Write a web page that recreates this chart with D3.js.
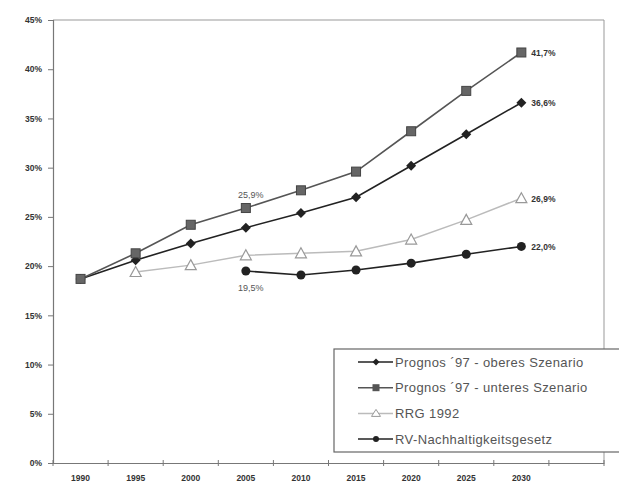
<!DOCTYPE html>
<html><head><meta charset="utf-8">
<script src="https://cdn.jsdelivr.net/npm/d3@7"></script>
<style>body{margin:0;background:#fff}svg{display:block}</style>
</head><body>
<svg id="c" width="619" height="488"></svg>
<script>
const years = ["1990","1995","2000","2005","2010","2015","2020","2025","2030",""];
const yTicks = [0,5,10,15,20,25,30,35,40,45];
const oberes  = [18.7, 20.6, 22.3, 23.9, 25.4, 27.0, 30.2, 33.4, 36.6];
const unteres = [18.7, 21.3, 24.2, 25.9, 27.7, 29.6, 33.7, 37.8, 41.7];
const rrg     = [null, 19.4, 20.1, 21.1, 21.3, 21.5, 22.7, 24.7, 26.9];
const rv      = [null, null, null, 19.5, 19.1, 19.6, 20.3, 21.2, 22.0];
const seriesNames = ["Prognos ´97 - oberes Szenario","Prognos ´97 - unteres Szenario","RRG 1992","RV-Nachhaltigkeitsgesetz"];
const endLabels = ["36,6%","41,7%","26,9%","22,0%"];

const svg = d3.select("#c");
const L=53,R=604,T=20,B=463;
const x = d3.scaleBand().domain(years.map((d,i)=>i)).range([L,R]);
const y = d3.scaleLinear().domain([0,45]).range([B,T]);
const cx = i => x(i)+x.bandwidth()/2;
const lf = "Liberation Sans, Arial, sans-serif";

// frame
svg.append("line").attr("x1",L).attr("x2",R).attr("y1",T).attr("y2",T).attr("stroke","#999").attr("stroke-width",1);
svg.append("line").attr("x1",R).attr("x2",R).attr("y1",T).attr("y2",B).attr("stroke","#999").attr("stroke-width",1);

// y axis
const ya = svg.append("g").attr("transform",`translate(${L},0)`)
  .call(d3.axisLeft(y).tickValues(yTicks).tickFormat(d=>d+"%").tickSize(5).tickPadding(6));
ya.select(".domain").attr("stroke","#777").attr("stroke-width",1.2);
ya.selectAll(".tick line").attr("stroke","#777");
ya.selectAll("text").attr("font-family",lf).attr("font-weight","bold").attr("font-size","8.5px").attr("fill","#333");

// x axis
const xa = svg.append("g").attr("transform",`translate(0,${B})`)
  .call(d3.axisBottom(x).tickFormat(i=>years[i]).tickSize(0).tickPadding(12));
xa.select(".domain").attr("stroke","#777").attr("stroke-width",1.2);
xa.selectAll("text").attr("font-family",lf).attr("font-weight","bold").attr("font-size","8.5px").attr("fill","#333");
const bounds = years.map((d,i)=>x(i)).concat([R]);
svg.append("g").selectAll("line").data(bounds).join("line")
  .attr("x1",d=>d).attr("x2",d=>d).attr("y1",B-3).attr("y2",B+3).attr("stroke","#777");

const data = [oberes, unteres, rrg, rv];
const lineCol = ["#222","#555","#bbb","#222"];
const line = d3.line().defined(d=>d!=null).x((d,i)=>cx(i)).y(d=>y(d));
function marker(g, k, px, py){
  if(k===0) g.append("path").attr("d",`M${px},${py-5}L${px+5},${py}L${px},${py+5}L${px-5},${py}Z`).attr("fill","#222");
  if(k===1) g.append("rect").attr("x",px-4.5).attr("y",py-4.5).attr("width",9).attr("height",9).attr("fill","#666").attr("stroke","#444");
  if(k===2) g.append("path").attr("d",`M${px},${py-5.5}L${px+5.5},${py+4.5}L${px-5.5},${py+4.5}Z`).attr("fill","#fff").attr("stroke","#999").attr("stroke-width",1.2);
  if(k===3) g.append("circle").attr("cx",px).attr("cy",py).attr("r",4.5).attr("fill","#222");
}
[2,3,0,1].forEach(k=>{
  const arr = data[k];
  const g = svg.append("g");
  g.append("path").datum(arr).attr("d",line).attr("fill","none").attr("stroke",lineCol[k]).attr("stroke-width",k===2?1.5:1.6);
  arr.forEach((v,i)=>{ if(v!=null) marker(g,k,cx(i),y(v)); });
});

// data labels
data.forEach((arr,k)=>{
  const i = arr.length-1;
  svg.append("text").attr("x",cx(i)+10).attr("y",y(arr[i])+3.5).text(endLabels[k])
    .attr("font-family",lf).attr("font-weight","bold").attr("font-size","8.5px").attr("fill","#333");
});
svg.append("text").attr("x",cx(3)+5).attr("y",y(unteres[3])-10).attr("text-anchor","middle").text("25,9%")
  .attr("font-family",lf).attr("font-size","9px").attr("fill","#555");
svg.append("text").attr("x",cx(3)+5).attr("y",y(rv[3])+20).attr("text-anchor","middle").text("19,5%")
  .attr("font-family",lf).attr("font-size","9px").attr("fill","#555");

// legend
const lg = svg.append("g");
lg.append("rect").attr("x",334).attr("y",349).attr("width",300).attr("height",103).attr("fill","#fff").attr("stroke","#666").attr("stroke-width",1.2);
seriesNames.forEach((n,k)=>{
  const ly = 362 + k*25.7;
  const mx = 376;
  lg.append("line").attr("x1",358).attr("x2",393).attr("y1",ly).attr("y2",ly).attr("stroke",lineCol[k]).attr("stroke-width",1.5);
  const m = lg.append("g");
  if(k===2){ m.append("path").attr("d",`M${mx},${ly-4}L${mx+4.5},${ly+3}L${mx-4.5},${ly+3}Z`).attr("fill","#fff").attr("stroke","#999"); }
  else if(k===1){ m.append("rect").attr("x",mx-3.5).attr("y",ly-3.5).attr("width",7).attr("height",7).attr("fill","#555"); }
  else if(k===0){ m.append("path").attr("d",`M${mx},${ly-3.5}L${mx+3.5},${ly}L${mx},${ly+3.5}L${mx-3.5},${ly}Z`).attr("fill","#222"); }
  else { m.append("circle").attr("cx",mx).attr("cy",ly).attr("r",3).attr("fill","#222"); }
  lg.append("text").attr("x",395).attr("y",ly+4.5).text(n).attr("font-family",lf).attr("font-size","13px")
    .attr("letter-spacing","0.4px").attr("fill","#555");
});
</script>
</body></html>
